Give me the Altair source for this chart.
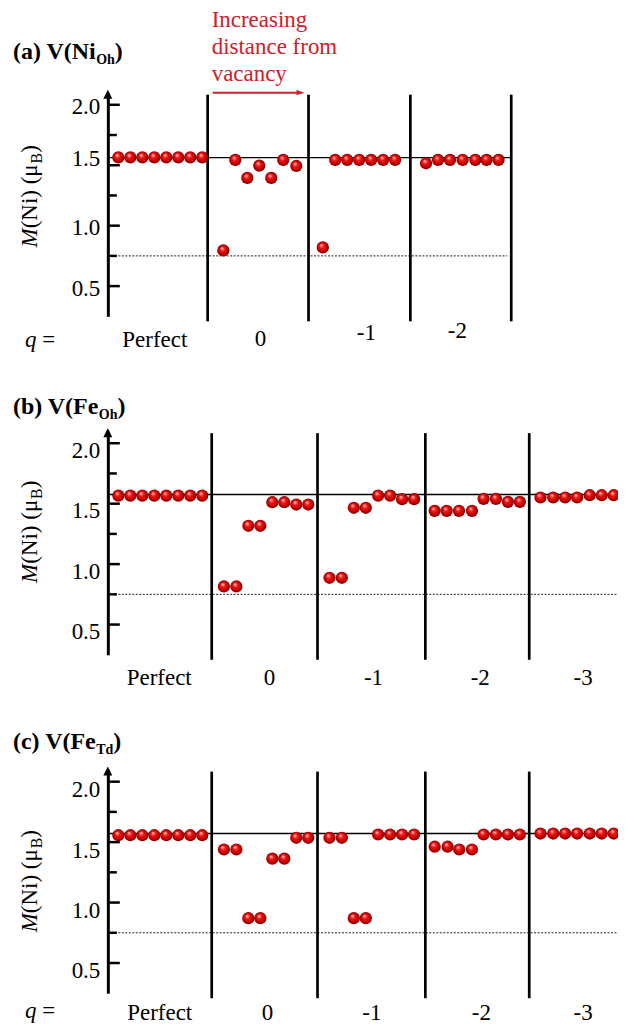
import altair as alt
import pandas as pd

FONT = "Liberation Serif"
RED = "#cf2027"
W, H = 511, 224

# ---------------- data ----------------
perfect_site = [0.88, 1.88, 2.88, 3.88, 4.88, 5.88, 6.88, 7.88]

a_site = perfect_site + [9.64, 10.64, 11.64, 12.64, 13.64, 14.64, 15.73,
                         17.94, 18.98, 19.98, 20.98, 21.98, 22.98, 23.98,
                         26.56, 27.56, 28.56, 29.61, 30.67, 31.61, 32.61]
a_moment = [1.565, 1.565, 1.565, 1.565, 1.565, 1.565, 1.565, 1.565,
            0.795, 1.544, 1.395, 1.497, 1.395, 1.544, 1.494,
            0.820, 1.544, 1.544, 1.544, 1.544, 1.544, 1.544,
            1.516, 1.544, 1.544, 1.544, 1.544, 1.544, 1.544]

b_site = perfect_site + [9.69, 10.73, 11.73, 12.73, 13.73, 14.73, 15.73, 16.73,
                         18.50, 19.53, 20.53, 21.53, 22.56, 23.56, 24.56, 25.56,
                         27.28, 28.28, 29.31, 30.39, 31.36, 32.39, 33.39, 34.39,
                         36.11, 37.17, 38.17, 39.17, 40.22, 41.22, 42.22, 43.22]
b_moment = [1.567, 1.567, 1.567, 1.567, 1.567, 1.567, 1.567, 1.567,
            0.815, 0.815, 1.317, 1.317, 1.512, 1.512, 1.493, 1.493,
            0.887, 0.887, 1.466, 1.466, 1.567, 1.567, 1.537, 1.537,
            1.441, 1.441, 1.441, 1.441, 1.540, 1.540, 1.515, 1.515,
            1.551, 1.551, 1.551, 1.551, 1.570, 1.570, 1.570, 1.570]

c_site = perfect_site + [9.69, 10.73, 11.73, 12.73, 13.73, 14.73, 15.73, 16.73,
                         18.50, 19.53, 20.53, 21.53, 22.56, 23.56, 24.56, 25.56,
                         27.28, 28.36, 29.33, 30.39, 31.36, 32.39, 33.39, 34.39,
                         36.11, 37.17, 38.17, 39.17, 40.22, 41.22, 42.22, 43.22]
c_moment = [1.557, 1.557, 1.557, 1.557, 1.557, 1.557, 1.557, 1.557,
            1.439, 1.439, 0.871, 0.871, 1.363, 1.363, 1.536, 1.536,
            1.536, 1.536, 0.871, 0.871, 1.563, 1.563, 1.563, 1.563,
            1.462, 1.462, 1.439, 1.439, 1.563, 1.563, 1.563, 1.563,
            1.571, 1.571, 1.571, 1.571, 1.571, 1.571, 1.571, 1.571]

sep_a = [8.33, 16.75, 25.25, 33.67]
sep_bc = [8.67, 17.50, 26.50, 35.17]

solid_a, solid_b, solid_c = 1.563, 1.576, 1.571
dotted_level = 0.75
line_end_a_solid, line_end_a_dotted = 33.67, 33.33

cats_a = ["Perfect", "0", "-1", "-2"]
cats_bc = ["Perfect", "0", "-1", "-2", "-3"]
cat_site_a = [3.92, 12.75, 21.58, 29.17]
cat_site_b = [4.29, 13.50, 22.17, 31.08, 39.67]
cat_site_c = [4.33, 13.33, 22.04, 31.17, 39.67]

y_ticks_major = [0.5, 1.0, 1.5, 2.0]
y_ticks_minor = [0.75, 1.25, 1.75]
x_extent = [0, 42.58]
y_extent = [0.25, 2.10]

# ---------------- styles ----------------
BALL = {"gradient": "radial", "x1": 0.38, "y1": 0.3, "r1": 0,
        "x2": 0.5, "y2": 0.5, "r2": 0.5,
        "stops": [{"offset": 0, "color": "#ffffff"},
                  {"offset": 0.16, "color": "#ff8080"},
                  {"offset": 0.4, "color": "#f01212"},
                  {"offset": 0.75, "color": "#c40000"},
                  {"offset": 1, "color": "#780000"}]}

XS = alt.Scale(domain=x_extent, nice=False, zero=False)
YS = alt.Scale(domain=y_extent, nice=False, zero=False)


def yax(label_offset):
    return alt.Axis(values=y_ticks_major, format=".1f", ticks=False, grid=False,
                    domainWidth=3, domainColor="black", labelFont=FONT,
                    labelFontSize=23, labelColor="black", labelPadding=8,
                    labelOffset=label_offset, title=None)


def txt(s, x, y, size=23, weight="normal", style="normal", color="black",
        align="left", angle=0):
    return alt.Chart(pd.DataFrame({"t": [s]})).mark_text(
        font=FONT, fontSize=size, fontWeight=weight, fontStyle=style,
        color=color, align=align, baseline="alphabetic", angle=angle
    ).encode(x=alt.value(x), y=alt.value(y), text="t:N")


def panel(site, moment, seps, solid, solid_end, dotted_end, cats, cat_site,
          cat_ys, title, title_y, ytitle_start, label_offset, q_y=None,
          annotate=False):
    def Y(f):
        return alt.Y(f, type="quantitative", scale=YS, axis=yax(label_offset))

    def X(f):
        return alt.X(f, type="quantitative", scale=XS, axis=None)

    layers = []
    dot = alt.Chart(pd.DataFrame({"lv": [dotted_level], "x0": [x_extent[0]],
                                  "x1": [dotted_end]})).mark_rule(
        color="#222222", strokeWidth=1, strokeDash=[2, 1.5]
    ).encode(y=Y("lv"), x=X("x0"), x2="x1:Q")
    layers.append(dot)
    sol = alt.Chart(pd.DataFrame({"lv": [solid], "x0": [x_extent[0]],
                                  "x1": [solid_end]})).mark_rule(
        color="black", strokeWidth=1.4
    ).encode(y=Y("lv"), x=X("x0"), x2="x1:Q")
    layers.append(sol)
    sep = alt.Chart(pd.DataFrame({"s": seps})).mark_rule(
        color="black", strokeWidth=2.7
    ).encode(x=X("s"), y=alt.value(2), y2=alt.value(229))
    layers.append(sep)
    tmaj = alt.Chart(pd.DataFrame({"v": y_ticks_major})).mark_rule(
        color="black", strokeWidth=2.5).encode(y=Y("v"), x=alt.value(0), x2=alt.value(12))
    tmin = alt.Chart(pd.DataFrame({"v": y_ticks_minor})).mark_rule(
        color="black", strokeWidth=2.5).encode(y=Y("v"), x=alt.value(0), x2=alt.value(9))
    layers += [tmaj, tmin]
    arrow = alt.Chart(pd.DataFrame({"k": [0]})).mark_point(
        shape="M-1,1L1,1L0,-1Z", size=81, filled=True, opacity=1, color="black",
        strokeWidth=0).encode(x=alt.value(0), y=alt.value(1.5))
    layers.append(arrow)
    balls = alt.Chart(pd.DataFrame({"x": site, "y": moment})).mark_circle(
        size=150, opacity=1, fill=BALL, strokeWidth=0, clip=True
    ).encode(x=X("x"), y=Y("y"))
    layers.append(balls)
    for lab, lx, ly in zip(cats, cat_site, cat_ys):
        layers.append(alt.Chart(pd.DataFrame({"lx": [lx], "lab": [lab]})).mark_text(
            font=FONT, fontSize=23, color="black", align="center",
            baseline="alphabetic"
        ).encode(x=X("lx"), y=alt.value(ly), text="lab:N"))

    # panel title with subscript
    main, sub, sub_x, close_x = title
    layers.append(txt(main, -95, title_y, size=24, weight="bold"))
    layers.append(txt(sub, sub_x, title_y + 5, size=14, weight="bold"))
    layers.append(txt(")", close_x, title_y, size=24, weight="bold"))

    # y-axis title M(Ni) (mu_B), rotated
    S = ytitle_start
    layers.append(txt("M", -71, S, style="italic", angle=270))
    layers.append(txt("(Ni) (\u03bc", -71, S - 19.2, angle=270))
    layers.append(txt("B", -66, S - 84.1, size=16, angle=270))
    layers.append(txt(")", -71, S - 94.8, angle=270))

    if q_y is not None:
        layers.append(txt("q", -83, q_y, style="italic"))
        layers.append(txt("=", -65.75, q_y))

    if annotate:
        layers.append(txt("Increasing", 104, -66, color=RED))
        layers.append(txt("distance from", 104, -39, color=RED))
        layers.append(txt("vacancy", 104, -12, color=RED))
        layers.append(alt.Chart(pd.DataFrame({"k": [0]})).mark_rule(
            color=RED, strokeWidth=2).encode(x=alt.value(105), x2=alt.value(192),
                                             y=alt.value(0)))
        layers.append(alt.Chart(pd.DataFrame({"k": [0]})).mark_point(
            shape="M-1,-0.65L1,0L-1,0.65Z", size=64, filled=True, opacity=1,
            color=RED, strokeWidth=0).encode(x=alt.value(193), y=alt.value(0)))
        # invisible layout anchor fixing the top-left corner of the figure
        layers.append(alt.Chart(pd.DataFrame({"k": [0]})).mark_square(
            size=9, opacity=0, color="white", strokeWidth=0).encode(
            x=alt.value(-98.5), y=alt.value(-82.5)))

    return alt.layer(*layers).properties(width=W, height=H)


cond_a = {"condition": {"test": "datum.value == 1.5", "value": -7}, "value": 2}

pa = panel(a_site, a_moment, sep_a, solid_a, line_end_a_solid, line_end_a_dotted,
           cats_a, cat_site_a, [255, 253.5, 247.5, 245.5],
           ("(a) V(Ni", "Oh", -11.7, 7.0), -34, 155, cond_a, q_y=255, annotate=True)
pb = panel(b_site, b_moment, sep_bc, solid_b, x_extent[1], x_extent[1],
           cats_bc, cat_site_b, [254.5, 254.5, 254, 254, 254],
           ("(b) V(Fe", "Oh", -9.0, 9.7), -17.5, 152, 7)
pc = panel(c_site, c_moment, sep_bc, solid_c, x_extent[1], x_extent[1],
           cats_bc, cat_site_c, [251, 251, 251, 251, 251],
           ("(c) V(Fe", "Td", -11.7, 5.4), -20.5, 163, 8, q_y=249)

chart = alt.vconcat(pa, pb, pc, spacing=115, bounds="flush").properties(
    padding=0).configure_view(stroke=None)

chart.save("out.html", embed_options={"renderer": "svg", "actions": False})
